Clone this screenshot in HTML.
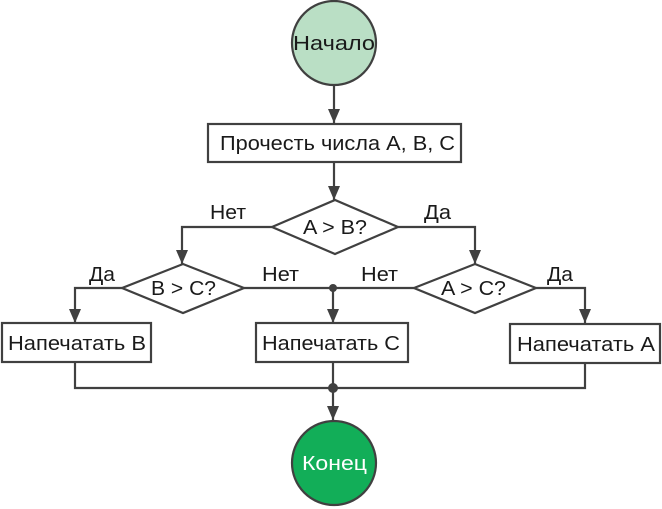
<!DOCTYPE html>
<html><head><meta charset="utf-8"><style>
html,body{margin:0;padding:0;background:#fff;}
svg{display:block;}
text{font-family:"Liberation Sans",sans-serif;font-size:20px;fill:#1a1a1a;}
</style></head><body>
<svg width="662" height="509" viewBox="0 0 662 509" xmlns="http://www.w3.org/2000/svg">
<defs><marker id="b" markerWidth="14" markerHeight="14" refX="14" refY="6" orient="auto" markerUnits="userSpaceOnUse"><path d="M0,0 L14,6 L0,12 z" fill="#404040"/></marker></defs>
<g stroke="#404040" stroke-width="2.2" fill="none">
<circle cx="334" cy="43" r="42" fill="#badfc5"/>
<line x1="334" y1="86" x2="334" y2="123" marker-end="url(#b)"/>
<rect x="208" y="124" width="253" height="38" fill="#fff"/>
<line x1="334" y1="162" x2="334" y2="200" marker-end="url(#b)"/>
<polygon points="272,227 335,200 398,227 335,254" fill="#fff"/>
<polyline points="272,227 182,227 182,264" marker-end="url(#b)"/>
<polyline points="398,227 475,227 475,264" marker-end="url(#b)"/>
<polygon points="122,288 183,264 244,288 183,313" fill="#fff"/>
<polygon points="414,288 475,264 536,288 475,313" fill="#fff"/>
<polyline points="122,288 75,288 75,323" marker-end="url(#b)"/>
<polyline points="536,288 585,288 585,323" marker-end="url(#b)"/>
<line x1="244" y1="288" x2="414" y2="288"/>
<line x1="333" y1="288" x2="333" y2="323" marker-end="url(#b)"/>
<rect x="2" y="323" width="149" height="39" fill="#fff"/>
<rect x="256" y="323" width="152" height="39" fill="#fff"/>
<rect x="510" y="324" width="150" height="39" fill="#fff"/>
<polyline points="75,362 75,388 585,388 585,363"/>
<line x1="333" y1="362" x2="333" y2="388"/>
<line x1="333" y1="388" x2="333" y2="420" marker-end="url(#b)"/>
<circle cx="334" cy="463" r="42" fill="#12ae58"/>
</g>
<circle cx="333" cy="288" r="4" fill="#404040"/>
<circle cx="333" cy="388" r="5" fill="#404040"/>
<text x="293" y="50" textLength="82" lengthAdjust="spacingAndGlyphs">Начало</text>
<text x="220" y="150" textLength="235" lengthAdjust="spacingAndGlyphs">Прочесть числа A, B, C</text>
<text x="303" y="234" textLength="64" lengthAdjust="spacingAndGlyphs">A &gt; B?</text>
<text x="151" y="295" textLength="65" lengthAdjust="spacingAndGlyphs">B &gt; C?</text>
<text x="441" y="295" textLength="65" lengthAdjust="spacingAndGlyphs">A &gt; C?</text>
<text x="8" y="350" textLength="138" lengthAdjust="spacingAndGlyphs">Напечатать B</text>
<text x="262" y="350" textLength="138" lengthAdjust="spacingAndGlyphs">Напечатать C</text>
<text x="517" y="351" textLength="138" lengthAdjust="spacingAndGlyphs">Напечатать A</text>
<text x="302" y="470" textLength="65" lengthAdjust="spacingAndGlyphs" style="fill:#fff">Конец</text>
<text x="210" y="219" textLength="36" lengthAdjust="spacingAndGlyphs">Нет</text>
<text x="424" y="219" textLength="27" lengthAdjust="spacingAndGlyphs">Да</text>
<text x="89" y="281" textLength="26" lengthAdjust="spacingAndGlyphs">Да</text>
<text x="262" y="281" textLength="37" lengthAdjust="spacingAndGlyphs">Нет</text>
<text x="361" y="281" textLength="37" lengthAdjust="spacingAndGlyphs">Нет</text>
<text x="547" y="281" textLength="26" lengthAdjust="spacingAndGlyphs">Да</text>
</svg>
</body></html>
